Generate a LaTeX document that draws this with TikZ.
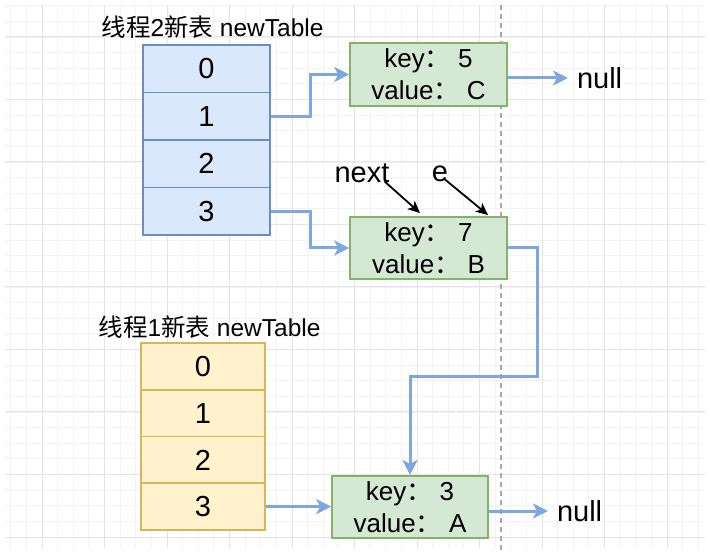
\documentclass[tikz,border=0pt]{standalone}
\usepackage{fontspec}
\setmainfont{Liberation Sans}
\newfontfamily\cjk{Noto Sans CJK SC}
\usetikzlibrary{arrows.meta}
\definecolor{bfill}{HTML}{DAE8FC}
\definecolor{bstroke}{HTML}{6C8EBF}
\definecolor{yfill}{HTML}{FFF2CC}
\definecolor{ystroke}{HTML}{D6B656}
\definecolor{gfill}{HTML}{D5E8D4}
\definecolor{gstroke}{HTML}{82B366}
\definecolor{acol}{HTML}{7EA6E0}
\definecolor{gridminor}{HTML}{F3F3F3}
\definecolor{gridmajor}{HTML}{E4E4E4}
\definecolor{dashcol}{HTML}{A8A8A8}
\tikzset{
  cellb/.style={draw=bstroke, fill=bfill, line width=1.6pt, minimum width=127pt, minimum height=47.5pt, inner sep=0pt, font=\fontsize{29}{29}\selectfont},
  celly/.style={draw=ystroke, fill=yfill, line width=1.6pt, minimum width=124pt, minimum height=46.75pt, inner sep=0pt, font=\fontsize{29}{29}\selectfont},
  entry/.style={draw=gstroke, fill=gfill, line width=1.6pt, minimum width=157pt, minimum height=62.5pt, inner sep=0pt, align=center, font=\fontsize{26}{32}\selectfont},
  title/.style={inner sep=0pt, font=\fontsize{24.5}{24.5}\selectfont},
  biglbl/.style={inner sep=0pt, font=\fontsize{29}{29}\selectfont},
  arr/.style={draw=acol, line width=3pt, -{Stealth[length=15pt,width=15pt,inset=4pt]}},
  barr/.style={draw=black, line width=1.8pt, -{Stealth[length=12pt,width=11pt,inset=3pt]}},
  gminor/.style={draw=gridminor, line width=0.8pt},
  gmajor/.style={draw=gridmajor, line width=1pt}
}
\begin{document}
\begin{tikzpicture}[x=1pt,y=-1pt]
\useasboundingbox (0,0) rectangle (710,553);
\fill[white] (0,0) rectangle (710,553);
% grid
\foreach \i in {0,...,44} {\draw[gminor] ({10.75+\i*15.625},5) -- ({10.75+\i*15.625},548);}
\foreach \k in {0,...,34} {\draw[gminor] (5,{5.75+\k*15.625}) -- (705,{5.75+\k*15.625});}
\foreach \i in {0,...,10} {\draw[gmajor] ({42+\i*62.5},5) -- ({42+\i*62.5},548);}
\foreach \k in {0,...,8} {\draw[gmajor] (5,{37+\k*62.5}) -- (705,{37+\k*62.5});}
% dashed guide
\draw[dashcol, line width=1.1pt, dash pattern=on 5pt off 4pt] (501,5) -- (501,553);
% titles
\node[title] (t2) at (212.5,27) {{\cjk 线程}2{\cjk 新表} newTable};
\node[title] (t1) at (209.5,327) {{\cjk 线程}1{\cjk 新表} newTable};
% blue table
\node[cellb] (b0) at (206.5,68.75) {0};
\node[cellb] (b1) at (206.5,116.25) {1};
\node[cellb] (b2) at (206.5,163.75) {2};
\node[cellb] (b3) at (206.5,211.25) {3};
% yellow table
\node[celly] (y0) at (203,366.4) {0};
\node[celly] (y1) at (203,413.1) {1};
\node[celly] (y2) at (203,459.9) {2};
\node[celly] (y3) at (203,506.6) {3};
% entries
\node[entry] (n1) at (428.5,74.5) {key{\cjk ：} 5\\value{\cjk ：} C};
\node[entry] (n2) at (428.5,248) {key{\cjk ：} 7\\value{\cjk ：} B};
\node[entry, minimum width=156pt] (n3) at (410,507) {key{\cjk ：} 3\\value{\cjk ：} A};
% labels
\node[biglbl, anchor=west, outer sep=9pt] (null1) at (568,78) {null};
\node[biglbl, anchor=west, outer sep=9pt] (null3) at (548,511) {null};
\node[biglbl, anchor=base] (next) at (362,183) {next};
\node[biglbl, anchor=base] (e) at (440,182) {e};
\coordinate (nextend) at (420,213);
\coordinate (eend) at (488,215);
% connectors
\draw[arr] (b1.east) -- ++(40,0) |- (n1.west);
\draw[arr] (b3.east) -- ++(40,0) |- (n2.west);
\draw[arr] (n2.east) -- ++(30,0) -- ++(0,129) -| (n3.north);
\draw[arr] (y3.east) -- (y3.east -| n3.west);
\draw[arr] (n1.east |- null1.west) -- (null1.west);
\draw[arr] (n3.east |- null3.west) -- (null3.west);
\draw[barr] ([shift={(-5,-2)}]next.south east) -- (nextend);
\draw[barr] ([shift={(5,-3)}]e.south) -- (eend);
\end{tikzpicture}
\end{document}
